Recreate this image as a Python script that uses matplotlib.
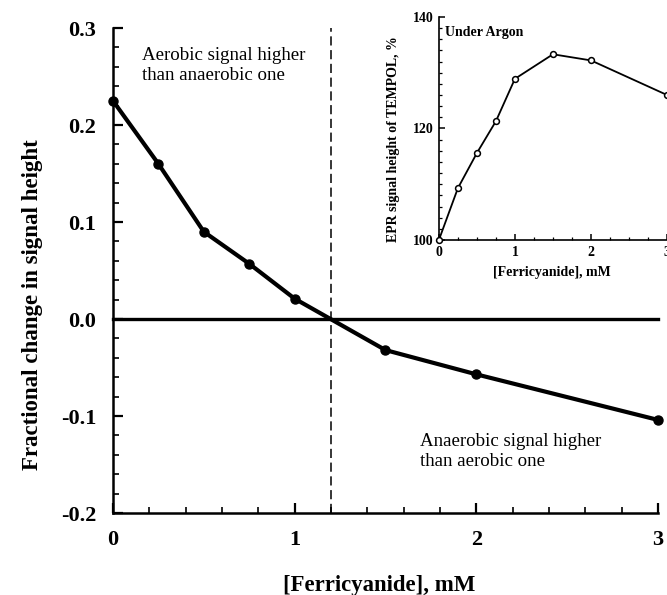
import matplotlib
matplotlib.use("Agg")
import matplotlib.pyplot as plt
from matplotlib.ticker import MultipleLocator

# Main panel data
conc = [0.0, 0.25, 0.5, 0.75, 1.0, 1.5, 2.0, 3.0]
frac_change = [0.225, 0.160, 0.090, 0.057, 0.021, -0.032, -0.057, -0.104]
crossover = 1.20

# Inset data (under argon)
inset_conc = [0.0, 0.25, 0.5, 0.75, 1.0, 1.5, 2.0, 3.0]
inset_signal = [100.0, 109.3, 115.6, 121.3, 128.9, 133.3, 132.2, 126.0]

main_xticks = [0, 1, 2, 3]
main_yticks = [-0.2, -0.1, 0.0, 0.1, 0.2, 0.3]
main_yticklabels = ["-0.2", "-0.1", "0.0", "0.1", "0.2", "0.3"]
inset_xticks = [0, 1, 2, 3]
inset_yticks = [100, 120, 140]

plt.rcParams['font.family'] = ['Liberation Serif', 'DejaVu Serif']

fig = plt.figure(figsize=(6.67, 5.95), dpi=100)
ax = fig.add_axes([0.1694, 0.1378, 0.817, 0.815])

ax.plot(conc, frac_change, color='black', lw=3.0, marker='o', ms=6.5,
        clip_on=False, zorder=4)
ax.plot([0, 3], [0, 0], color='black', lw=2.4, zorder=3, clip_on=False)
ax.plot([crossover, crossover], [-0.2, 0.3], color='black', lw=1.1,
        ls=(0, (6, 3)), zorder=2)

ax.set_xlim(0, 3)
ax.set_ylim(-0.2, 0.3)
ax.set_xticks(main_xticks)
ax.set_yticks(main_yticks)
ax.set_yticklabels(main_yticklabels)
ax.xaxis.set_minor_locator(MultipleLocator(0.2))
ax.yaxis.set_minor_locator(MultipleLocator(0.02))
for s in ['top', 'right']:
    ax.spines[s].set_visible(False)
for s in ['left', 'bottom']:
    ax.spines[s].set_linewidth(1.8)
ax.tick_params(which='major', direction='in', length=7, width=1.6, pad=12,
               labelsize=16)
ax.tick_params(which='minor', direction='in', length=4, width=1.2)
for lab in ax.get_xticklabels() + ax.get_yticklabels():
    lab.set_fontweight('bold')

ax.set_xlabel("[Ferricyanide], mM", fontsize=16.4, fontweight='bold')
ax.set_ylabel("Fractional change in signal height", fontsize=16.5, fontweight='bold')
ax.xaxis.set_label_coords(0.488, -0.128)
ax.yaxis.set_label_coords(-0.128, 0.429)

ax.text(0.16, 0.280, "Aerobic signal higher\nthan anaerobic one", fontsize=13.6,
        ha='left', va='top', linespacing=1.2)
ax.text(1.69, -0.1175, "Anaerobic signal higher\nthan aerobic one", fontsize=13.6,
        ha='left', va='top', linespacing=1.2)

# Inset
ins = fig.add_axes([0.658, 0.5966, 0.342, 0.375])
ins.plot(inset_conc, inset_signal, color='black', lw=1.3, marker='o', ms=4.2,
         mfc='white', mec='black', mew=1.1, clip_on=False, zorder=4)
ins.set_xlim(0, 3)
ins.set_ylim(100, 140)
ins.set_xticks(inset_xticks)
ins.set_yticks(inset_yticks)
ins.xaxis.set_minor_locator(MultipleLocator(0.25))
ins.yaxis.set_minor_locator(MultipleLocator(2))
for s in ['top', 'right']:
    ins.spines[s].set_visible(False)
for s in ['left', 'bottom']:
    ins.spines[s].set_linewidth(1.2)
ins.tick_params(which='major', direction='in', length=4, width=1.1, pad=4,
                labelsize=10)
ins.tick_params(which='minor', direction='in', length=2, width=0.9)
for lab in ins.get_xticklabels() + ins.get_yticklabels():
    lab.set_fontweight('bold')
ins.set_xlabel("[Ferricyanide], mM", fontsize=10, fontweight='bold')
ins.set_ylabel("EPR signal height of TEMPOL, %", fontsize=10, fontweight='bold')
ins.xaxis.set_label_coords(0.495, -0.117)
ins.yaxis.set_label_coords(-0.172, 0.45)
ins.text(0.026, 0.928, "Under Argon", transform=ins.transAxes, fontsize=10,
         fontweight='bold', ha='left', va='center')

fig.savefig("out.png", dpi=100)
